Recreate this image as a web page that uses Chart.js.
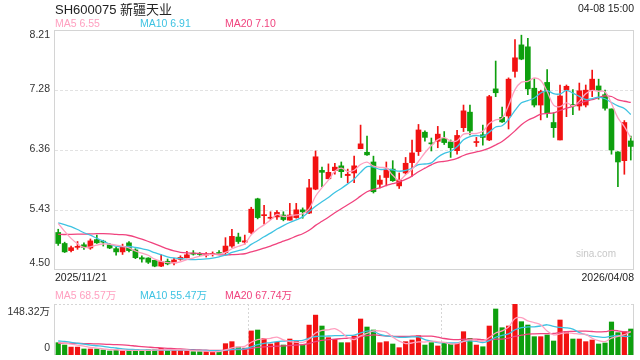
<!DOCTYPE html>
<html>
<head>
<meta charset="utf-8">
<script src="https://cdn.jsdelivr.net/npm/chart.js@4.4.1/dist/chart.umd.min.js"></script>
<style>
  html, body { margin: 0; padding: 0; background: #fff; }
  #wrap { position: relative; width: 640px; height: 360px; }
  canvas { position: absolute; left: 0; }
  #kline { top: 0; }
  #vol { top: 280px; }
</style>
</head>
<body>
<div id="wrap">
  <canvas id="kline" width="640" height="360"></canvas>
  <canvas id="vol" width="640" height="80"></canvas>
</div>
<script>
const dates = [
  '2025/11/21','2025/11/24','2025/11/25','2025/11/26','2025/11/27','2025/11/28',
  '2025/12/01','2025/12/02','2025/12/03','2025/12/04','2025/12/05','2025/12/08','2025/12/09','2025/12/10','2025/12/11','2025/12/12',
  '2025/12/15','2025/12/16','2025/12/17','2025/12/18','2025/12/19','2025/12/22','2025/12/23','2025/12/24','2025/12/25','2025/12/26',
  '2025/12/29','2025/12/30','2025/12/31',
  '2026/01/05','2026/01/06','2026/01/07','2026/01/08','2026/01/09','2026/01/12','2026/01/13','2026/01/14','2026/01/15','2026/01/16',
  '2026/01/19','2026/01/20','2026/01/21','2026/01/22','2026/01/23','2026/01/26','2026/01/27','2026/01/28','2026/01/29','2026/01/30',
  '2026/02/02','2026/02/03','2026/02/04','2026/02/05','2026/02/06','2026/02/09','2026/02/10','2026/02/11','2026/02/12','2026/02/13',
  '2026/02/24','2026/02/25','2026/02/26','2026/02/27',
  '2026/03/02','2026/03/03','2026/03/04','2026/03/05','2026/03/06','2026/03/09','2026/03/10','2026/03/11','2026/03/12','2026/03/13',
  '2026/03/16','2026/03/17','2026/03/18','2026/03/19','2026/03/20','2026/03/23','2026/03/24','2026/03/25','2026/03/26','2026/03/27',
  '2026/03/30','2026/03/31',
  '2026/04/01','2026/04/02','2026/04/03','2026/04/07','2026/04/08'
];

const opens = [5.08,4.91,4.80,4.85,4.89,4.84,4.97,4.94,4.89,4.83, 4.78,4.92,4.81,4.69,4.685,4.65,4.56,4.635,4.61,4.665,
  4.69,4.76,4.745,4.73,4.74,4.765,4.77,4.87,5.01,4.93, 5.08,5.60,5.34,5.30,5.32,5.35,5.27,5.31,5.43,5.38,
  5.75,6.04,5.91,6.035,6.11,5.96,6.00,6.375,6.32,6.17, 5.825,5.93,6.06,5.80,6.00,6.16,6.33,6.63,6.455,6.49,
  6.535,6.48,6.345,6.70,6.94,6.47,6.59,6.51,7.30,6.86, 6.88,7.57,7.98,7.95,7.31,7.05,7.40,6.78,6.51,7.28,
  7.06,7.035,7.05,7.28,7.345,7.21,6.99,6.325,6.19,6.495];
const highs = [5.13,4.93,4.87,4.94,4.92,4.98,5.04,4.96,4.91,4.85, 4.90,4.94,4.83,4.72,4.69,4.65,4.74,4.67,4.68,4.72,
  4.79,4.80,4.77,4.77,4.78,4.80,5.00,5.13,5.07,5.04, 5.47,5.61,5.50,5.40,5.42,5.40,5.53,5.53,5.46,5.90,
  6.34,6.09,6.14,6.15,6.17,6.06,6.26,6.74,6.57,6.26, 5.96,6.17,6.19,6.00,6.24,6.51,6.75,6.65,6.54,6.72,
  6.64,6.51,6.66,7.05,7.05,6.55,6.74,7.20,7.73,7.02, 7.47,8.06,8.13,8.08,7.46,7.28,7.60,6.93,7.36,7.36,
  7.29,7.39,7.36,7.59,7.45,7.28,6.99,6.33,6.81,6.57];
const lows = [4.88,4.77,4.78,4.82,4.82,4.82,4.91,4.87,4.83,4.73, 4.74,4.78,4.675,4.62,4.60,4.55,4.55,4.58,4.58,4.65,
  4.685,4.73,4.72,4.70,4.715,4.74,4.73,4.85,4.91,4.90, 5.06,5.29,5.21,5.28,5.28,5.26,5.27,5.30,5.30,5.37,
  5.74,5.79,5.91,5.98,5.93,5.85,5.85,6.375,6.27,5.69, 5.77,5.80,5.87,5.76,5.98,5.95,6.27,6.49,6.34,6.39,
  6.44,6.24,6.29,6.64,6.59,6.41,6.43,6.50,7.18,6.78, 6.68,7.48,7.75,7.21,7.02,6.82,6.86,6.55,6.51,6.87,
  6.90,6.97,7.02,7.18,7.14,6.97,6.29,5.79,5.98,6.20];
const closes = [4.91,4.78,4.845,4.86,4.85,4.95,4.92,4.93,4.84,4.78, 4.86,4.80,4.69,4.67,4.62,4.56,4.63,4.595,4.655,4.695,
  4.735,4.745,4.74,4.745,4.75,4.755,4.87,5.02,4.94,4.95, 5.44,5.31,5.35,5.31,5.39,5.28,5.35,5.43,5.40,5.77,
  6.25,6.01,6.01,6.09,6.02,5.98,6.11,6.45,6.28,5.71, 5.89,6.06,5.88,5.89,6.15,6.31,6.665,6.55,6.45,6.60,
  6.47,6.39,6.58,6.96,6.65,6.48,6.55,7.18,7.24,6.79, 7.45,7.78,7.76,7.30,7.05,7.26,6.93,6.70,7.19,7.34,
  7.035,7.27,7.28,7.45,7.28,7.00,6.355,6.17,6.78,6.41];
// volume in 万 shares
const volumes = [35.8,29,23,23,17.5,17.5,17.5,14.5,11.6,14.5, 11.6,15,14.5,12.5,15,15,19.5,12.5,14.5,14.5,
  11.6,9.7,9.7,9.7,9.7,11.6,33,38.8,23,20, 70,72.7,48.4,32,37,29,46.5,40.7,29,87,
  116,84.3,50.4,45.6,35.8,35.8,55.3,104.7,81.4,72.7, 35.8,38.8,32,21.3,38.8,43.6,56,29,35.8,26.2,
  37,32,34,67.8,48.4,29,24,84.3,133.8,79.4, 84.3,148.32,96.9,87.2,53.3,53.3,58.2,40.7,101.8,67.8,
  46.5,46.5,38.8,43.6,32,34.9,96,65,67.8,75.6];

// sessions before 2025/11/21, estimated from where the MA lines start
const priorCloses = [4.80,4.78,4.82,4.85,4.88,4.86,4.90,4.92,4.95,4.94, 5.05,5.18,5.30,5.35,5.32, 5.40,5.38,5.28,5.13];
const priorVolumes = [25,28,30,24,26,29,27,31,26,27, 40,52,48,44,43, 38,35,37,34];

const yTicks = [4.50, 5.4275, 6.355, 7.2825, 8.21];
const yTickLabels = ['4.50', '5.43', '6.36', '7.28', '8.21'];
const volMax = 148.32;
const volTickLabels = ['148.32万', '0'];

const title = 'SH600075 新疆天业';
const timeText = '04-08 15:00';
const maLegend = [['MA5 6.55', 'MA5'], ['MA10 6.91', 'MA10'], ['MA20 7.10', 'MA20']];
const volLegend = [['MA5 68.57万', 'MA5'], ['MA10 55.47万', 'MA10'], ['MA20 67.74万', 'MA20']];

const RED = '#f21212';
const GREEN = '#0e9f0e';
const MA_COLORS = { MA5: '#ffa0c0', MA10: '#3ec3e2', MA20: '#f0437e' };
const FONT = '"Liberation Sans", Arial, "Noto Sans CJK SC", sans-serif';

function movingAverage(prior, values, n) {
  const all = prior.concat(values);
  const off = prior.length;
  return values.map((_, i) => {
    const end = off + i;
    let s = 0;
    for (let k = end - n + 1; k <= end; k++) s += all[k];
    return +(s / n).toFixed(4);
  });
}

const isUp = i => closes[i] >= opens[i];
const candleColor = c => isUp(c.dataIndex) ? RED : GREEN;

const ma5 = movingAverage(priorCloses, closes, 5);
const ma10 = movingAverage(priorCloses, closes, 10);
const ma20 = movingAverage(priorCloses, closes, 20);
const vma5 = movingAverage(priorVolumes, volumes, 5);
const vma10 = movingAverage(priorVolumes, volumes, 10);
const vma20 = movingAverage(priorVolumes, volumes, 20);

function lineSet(label, data) {
  return { type: 'line', label, data, borderColor: MA_COLORS[label], borderWidth: 1.3,
    pointRadius: 0, tension: 0.35, fill: false, order: 0 };
}

function drawLegend(ctx, items, y) {
  const xs = [55, 140, 225];
  ctx.font = '10.5px ' + FONT;
  ctx.textBaseline = 'middle';
  ctx.textAlign = 'left';
  items.forEach(([text, key], i) => {
    ctx.fillStyle = MA_COLORS[key];
    ctx.fillText(text, xs[i], y);
  });
}

const klineDecor = {
  id: 'klineDecor',
  beforeDatasetsDraw(chart) {
    const { ctx, chartArea: a, scales: { y } } = chart;
    ctx.save();
    ctx.lineWidth = 1;
    ctx.strokeStyle = '#e2e2e2';
    ctx.setLineDash([3, 2]);
    yTicks.slice(1, -1).forEach(v => {
      const py = Math.round(y.getPixelForValue(v)) + 0.5;
      ctx.beginPath(); ctx.moveTo(a.left, py); ctx.lineTo(a.right, py); ctx.stroke();
    });
    ctx.setLineDash([]);
    ctx.strokeStyle = '#d4d4d4';
    ctx.strokeRect(a.left - 0.5, a.top + 0.5, a.right - a.left, a.bottom - a.top - 1);
    ctx.fillStyle = '#c8c8c8';
    ctx.font = '10px ' + FONT;
    ctx.textAlign = 'right';
    ctx.textBaseline = 'middle';
    ctx.fillText('sina.com', a.right - 18, a.bottom - 16);
    ctx.restore();
  },
  afterDraw(chart) {
    const { ctx, chartArea: a, scales: { y } } = chart;
    ctx.save();
    ctx.fillStyle = '#222';
    ctx.font = '13px ' + FONT;
    ctx.textBaseline = 'middle';
    ctx.textAlign = 'left';
    ctx.fillText(title, 55, 10);
    ctx.font = '10.5px ' + FONT;
    ctx.textAlign = 'right';
    ctx.fillText(timeText, 634, 9);
    drawLegend(ctx, maLegend, 24);

    ctx.fillStyle = '#333';
    ctx.font = '10.5px ' + FONT;
    ctx.textAlign = 'right';
    yTicks.forEach((v, i) => {
      const py = y.getPixelForValue(v);
      const dy = i === yTicks.length - 1 ? 5 : (i === 0 ? -7 : -1);
      ctx.fillText(yTickLabels[i], 50, py + dy);
    });

    ctx.fillStyle = '#222';
    ctx.textAlign = 'left';
    ctx.fillText(dates[0], a.left, a.bottom + 8);
    ctx.textAlign = 'right';
    ctx.fillText(dates[dates.length - 1], a.right, a.bottom + 8);
    ctx.restore();
  }
};

const volDecor = {
  id: 'volDecor',
  beforeDatasetsDraw(chart) {
    const { ctx, chartArea: a } = chart;
    ctx.save();
    ctx.lineWidth = 1;
    ctx.strokeStyle = '#d6d6d6';
    ctx.setLineDash([2, 2]);
    [a.top + 0.5, a.bottom - 0.5].forEach(py => {
      ctx.beginPath(); ctx.moveTo(a.left, py); ctx.lineTo(a.right, py); ctx.stroke();
    });
    [1, 2].forEach(k => {
      const px = Math.round(a.left + (a.right - a.left) * k / 3) + 0.5;
      ctx.beginPath(); ctx.moveTo(px, a.top); ctx.lineTo(px, a.bottom); ctx.stroke();
    });
    ctx.setLineDash([]);
    ctx.strokeStyle = '#d4d4d4';
    [a.left - 0.5, a.right - 0.5].forEach(px => {
      ctx.beginPath(); ctx.moveTo(px, a.top); ctx.lineTo(px, a.bottom); ctx.stroke();
    });
    ctx.restore();
  },
  afterDraw(chart) {
    const { ctx, chartArea: a } = chart;
    ctx.save();
    drawLegend(ctx, volLegend, 16);
    ctx.fillStyle = '#333';
    ctx.font = '10.5px ' + FONT;
    ctx.textAlign = 'right';
    ctx.textBaseline = 'middle';
    ctx.fillText(volTickLabels[0], 50, a.top + 8);
    ctx.fillText(volTickLabels[1], 50, a.bottom - 7);
    ctx.restore();
  }
};

const baseOptions = {
  responsive: false,
  animation: false,
  devicePixelRatio: 1,
  plugins: { legend: { display: false }, tooltip: { enabled: false } },
  events: []
};

new Chart(document.getElementById('kline'), {
  type: 'bar',
  data: {
    labels: dates,
    datasets: [
      lineSet('MA5', ma5),
      lineSet('MA10', ma10),
      lineSet('MA20', ma20),
      { label: 'body', data: dates.map((d, i) => [opens[i], closes[i]]), backgroundColor: candleColor,
        barThickness: 5, minBarLength: 1, grouped: false, borderWidth: 0, order: 1 },
      { label: 'wick', data: dates.map((d, i) => [lows[i], highs[i]]), backgroundColor: candleColor,
        barThickness: 1, grouped: false, borderWidth: 0, order: 2 }
    ]
  },
  options: {
    ...baseOptions,
    layout: { padding: { left: 55, right: 6, top: 30, bottom: 90 } },
    scales: {
      x: { type: 'category', offset: true, display: false },
      y: { display: false, min: yTicks[0], max: yTicks[yTicks.length - 1] }
    }
  },
  plugins: [klineDecor]
});

new Chart(document.getElementById('vol'), {
  type: 'bar',
  data: {
    labels: dates,
    datasets: [
      lineSet('MA5', vma5),
      lineSet('MA10', vma10),
      lineSet('MA20', vma20),
      { label: 'volume', data: volumes, backgroundColor: candleColor,
        barThickness: 4.5, grouped: false, borderWidth: 0, order: 1 }
    ]
  },
  options: {
    ...baseOptions,
    layout: { padding: { left: 55, right: 6, top: 24, bottom: 5 } },
    scales: {
      x: { type: 'category', offset: true, display: false },
      y: { display: false, min: 0, max: volMax }
    }
  },
  plugins: [volDecor]
});
</script>
</body>
</html>
